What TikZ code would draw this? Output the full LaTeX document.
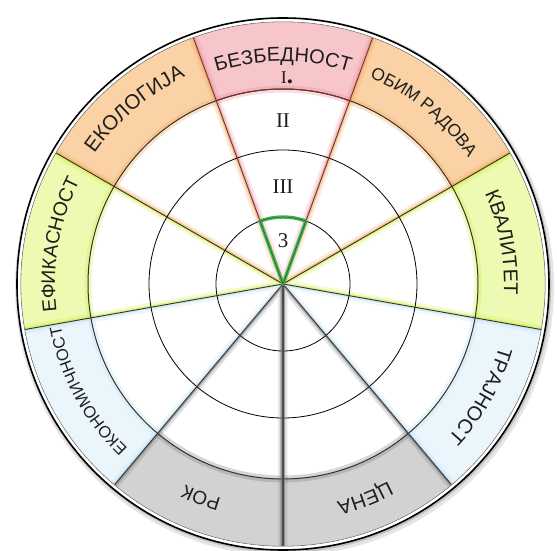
\documentclass[tikz,border=0pt]{standalone}
\usepackage{fontspec}
\setmainfont{Liberation Sans}
\newfontfamily\numfont{Liberation Serif}
\usetikzlibrary{decorations.text}

\definecolor{pinkF}{RGB}{246,198,202}
\definecolor{pinkG}{RGB}{236,140,150}
\definecolor{oranF}{RGB}{250,210,165}
\definecolor{oranG}{RGB}{240,165,90}
\definecolor{greenF}{RGB}{236,250,178}
\definecolor{greenG}{RGB}{205,238,60}
\definecolor{blueF}{RGB}{234,246,252}
\definecolor{blueG}{RGB}{185,222,245}
\definecolor{grayF}{RGB}{210,210,210}
\definecolor{grayG}{RGB}{120,120,120}
\definecolor{lineC}{RGB}{55,48,40}
\definecolor{redline}{RGB}{115,50,45}
\definecolor{green3}{RGB}{60,185,75}
\definecolor{txt}{RGB}{30,30,30}

\newcommand\wsector[4]{%
  \fill[#3] (#1:195) arc[start angle=#1,end angle=#2,radius=195] -- (#2:262) arc[start angle=#2,end angle=#1,radius=262] -- cycle;
  \begin{scope}
    \clip (0,0) -- (#1:262) arc[start angle=#1,end angle=#2,radius=262] -- cycle;
    \draw[#4,line width=9,opacity=.22] (#1:262) -- (0,0) -- (#2:262);
    \draw[#4,line width=4,opacity=.5] (#1:262) -- (0,0) -- (#2:262);
    \draw[#4,line width=7,opacity=.3] (#1:195) arc[start angle=#1,end angle=#2,radius=195];
  \end{scope}}

\newcommand\arclabel[4]{%
  \path[decorate,decoration={text along path,text align=center,
    text color=txt,text={|\fontsize{#3}{#3}\selectfont|#4}}]
    ({#1+40}:#2) arc[start angle={#1+40},end angle={#1-40},radius=#2];}

\tikzset{numlbl/.style={font=\numfont\fontsize{21}{21}\selectfont,inner sep=0pt,text=txt}}

\begin{document}
\begin{tikzpicture}[x=1pt,y=1pt]
\useasboundingbox (-283,-267) rectangle (274,284);
% shadow
\fill[black,opacity=.10] (1.5,-2.5) circle[radius=269.5];
\fill[black,opacity=.15] (0.8,-1.2) circle[radius=267.5];
\fill[white] (0,0) circle[radius=266];

% sectors
\wsector{70}{110}{pinkF}{pinkG}
\wsector{30}{70}{oranF}{oranG}
\wsector{110}{150}{oranF}{oranG}
\wsector{-10}{30}{greenF}{greenG}
\wsector{150}{190}{greenF}{greenG}
\wsector{-50}{-10}{blueF}{blueG}
\wsector{190}{230}{blueF}{blueG}
\wsector{-90}{-50}{grayF}{grayG}
\wsector{230}{270}{grayF}{grayG}

% inner circles
\draw[black,line width=.8] (0,0) circle[radius=67];
\draw[black,line width=.8] (0,0) circle[radius=134];

% ring inner edge
\draw[lineC,line width=1] (0,0) circle[radius=195];
\draw[redline,line width=1] (70:195) arc[start angle=70,end angle=110,radius=195];

% radial lines
\foreach \a in {70,110} \draw[redline,line width=.9] (0,0) -- (\a:262);
\foreach \a in {30,150,-10,190} \draw[lineC,line width=.9] (0,0) -- (\a:262);
\foreach \a in {-50,-130} \draw[black!75,line width=1.1] (0,0) -- (\a:262);
\draw[gray,line width=5,opacity=.4] (0,0) -- (-90:262);
\draw[black!70,line width=2.4] (0,0) -- (-90:262);

% green sector 3
\draw[green3,line width=3.4,line join=round] (0,0) -- (70:67) arc[start angle=70,end angle=110,radius=67] -- cycle;
\draw[black!70,line width=.6,line join=round] (0,0) -- (70:67) arc[start angle=70,end angle=110,radius=67] -- cycle;

% outer rim
\draw[black!55,line width=.8] (0,0) circle[radius=262.3];
\draw[white,line width=2.6] (0,0) circle[radius=264];
\draw[black,line width=1.6] (0,0) circle[radius=266];

% numerals
\node[numlbl] (nI) at (4,206) {\fontsize{18}{18}\selectfont I\fontsize{25}{25}\selectfont\bfseries .};
\node[numlbl] (nII) at (0,163) {II};
\node[numlbl] (nIII) at (0,97) {III};
\node[numlbl] (n3) at (0,43) {3};

% curved labels
\arclabel{90}{222.5}{20}{БЕЗБЕДНОСТ}
\arclabel{50.7}{224}{17.5}{ОБИМ РАДОВА}
\arclabel{10.7}{221}{20}{КВАЛИТЕТ}
\arclabel{-29.5}{225}{20}{ТРАЈНОСТ}
\arclabel{-69}{224}{20}{ЦЕНА}
\arclabel{-111}{223}{19}{РОК}
\arclabel{208.7}{226}{16.5}{ЕКОНОМИЧНОСТ}
\arclabel{170}{228}{19.5}{ЕФИКАСНОСТ}
\arclabel{130.3}{229}{20.5}{ЕКОЛОГИЈА}
\end{tikzpicture}
\end{document}
